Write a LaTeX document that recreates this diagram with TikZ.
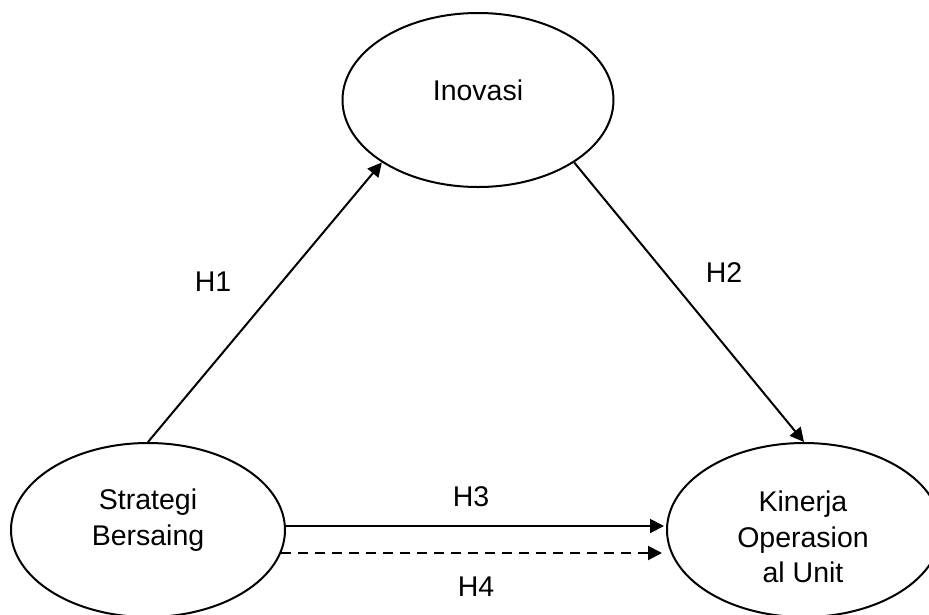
\documentclass[tikz,border=0pt]{standalone}
\usepackage{fontspec}
\setmainfont{Liberation Sans}
\usetikzlibrary{shapes.geometric,arrows.meta}
\begin{document}
\begin{tikzpicture}[x=1pt,y=-1pt,
  var/.style={ellipse,draw,line width=2pt,inner sep=0pt},
  txt/.style={align=center,font=\fontsize{28.5}{35.5}\selectfont,inner sep=0pt},
  conn/.style={line width=2pt,-{Triangle[length=14pt,width=14pt]}},
  hl/.style={font=\fontsize{28.5}{35.5}\selectfont,inner sep=0pt}]
\useasboundingbox (0,0) rectangle (929,614);
\node[var,minimum width=271pt,minimum height=174pt] (I) at (478,100) {};
\node[var,minimum width=274pt,minimum height=174pt] (S) at (148,530) {};
\node[var,minimum width=274pt,minimum height=174pt] (K) at (804,530) {};
\node[txt] (It) at (478,90) {Inovasi};
\node[txt] (St) at (148,520) {Strategi\\Bersaing};
\node[txt] (Kt) at (803,537) {Kinerja\\Operasion\\al Unit};
\draw[conn] (S.north) -- (I.213);
\draw[conn] (I.327) -- (K.north);
\draw[conn] ([yshift=4pt]S.east) -- ([xshift=-2pt,yshift=4pt]K.west);
\draw[conn,dash pattern=on 10pt off 7pt] ([xshift=-5pt,yshift=-23pt]S.east) -- ([xshift=-4pt,yshift=-23pt]K.west);
\node[hl] (h1) at (213,282) {H1};
\node[hl] (h2) at (724,273) {H2};
\node[hl] (h3) at (471,497) {H3};
\node[hl] (h4) at (476,587) {H4};
\end{tikzpicture}
\end{document}
